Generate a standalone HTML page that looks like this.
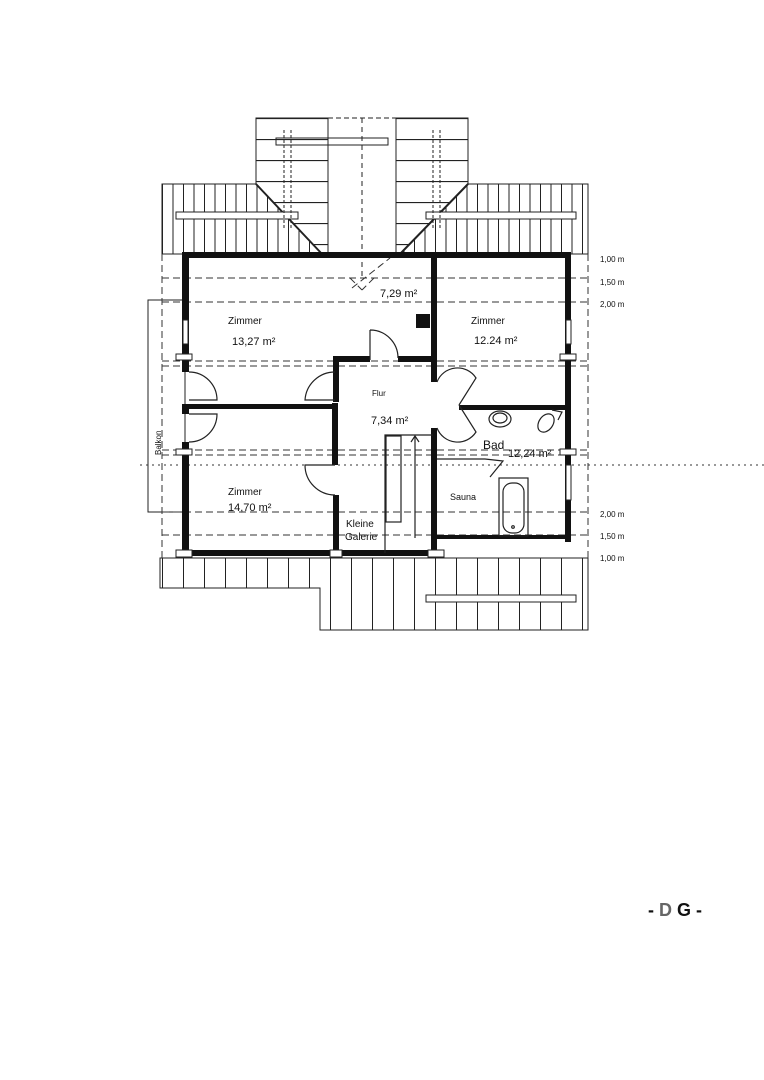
<!DOCTYPE html>
<html><head><meta charset="utf-8"><style>
html,body{margin:0;padding:0;background:#fff;}
svg{display:block;}
text{font-family:"Liberation Sans",sans-serif;fill:#111;}
</style></head><body>
<svg width="764" height="1080" viewBox="0 0 764 1080" xmlns="http://www.w3.org/2000/svg">
<defs>
<pattern id="v11" width="10.5" height="20" patternUnits="userSpaceOnUse" x="162"><rect width="10.5" height="20" fill="#fff"/><line x1="0.5" y1="0" x2="0.5" y2="20" stroke="#222" stroke-width="1"/></pattern>
<pattern id="v21" width="21" height="20" patternUnits="userSpaceOnUse" x="162"><rect width="21" height="20" fill="#fff"/><line x1="0.5" y1="0" x2="0.5" y2="20" stroke="#222" stroke-width="1"/></pattern>
<pattern id="h21" width="20" height="21" patternUnits="userSpaceOnUse" y="118"><rect width="20" height="21" fill="#fff"/><line x1="0" y1="0.5" x2="20" y2="0.5" stroke="#222" stroke-width="1.2"/></pattern>
</defs>
<g fill="none" stroke="#222" stroke-width="1">
<!-- dormers -->
<rect x="256" y="118" width="72" height="136" fill="url(#h21)"/>
<rect x="396" y="118" width="72" height="136" fill="url(#h21)"/>
<line x1="328" y1="118" x2="396" y2="118" stroke-dasharray="5,3"/>
<line x1="362" y1="118" x2="362" y2="280" stroke-dasharray="5,4"/>
<!-- side roofs -->
<polygon points="162,184 256,184 322,254 162,254" fill="url(#v11)"/>
<polygon points="468,184 588,184 588,254 400,254" fill="url(#v11)"/>
<line x1="256" y1="184" x2="322" y2="254" stroke-width="2"/>
<line x1="468" y1="184" x2="400" y2="254" stroke-width="2"/>
<rect x="176" y="212" width="122" height="7" fill="#fff"/>
<rect x="426" y="212" width="150" height="7" fill="#fff"/>
<rect x="276" y="138" width="112" height="7" fill="none"/>
<rect x="424" y="138" width="0" height="0"/>
<line x1="284" y1="130" x2="284" y2="230" stroke-dasharray="3,2"/>
<line x1="291" y1="130" x2="291" y2="230" stroke-dasharray="3,2"/>
<line x1="433" y1="130" x2="433" y2="230" stroke-dasharray="3,2"/>
<line x1="440" y1="130" x2="440" y2="230" stroke-dasharray="3,2"/>
<!-- bottom roof -->
<polygon points="160,558 588,558 588,630 320,630 320,588 160,588" fill="url(#v21)"/>
<rect x="426" y="595" width="150" height="7" fill="#fff"/>
<!-- balcony -->
<rect x="148" y="300" width="37" height="212" fill="#fff"/>
<!-- dashed lines -->
<g stroke-dasharray="7,4" stroke="#333">
<line x1="162" y1="254" x2="162" y2="558"/>
<line x1="588" y1="254" x2="588" y2="558"/>
<line x1="162" y1="278" x2="588" y2="278"/>
<line x1="162" y1="302" x2="588" y2="302"/>
<line x1="162" y1="361" x2="588" y2="361"/>
<line x1="162" y1="366" x2="588" y2="366"/>
<line x1="162" y1="450" x2="588" y2="450"/>
<line x1="162" y1="455" x2="588" y2="455"/>
<line x1="162" y1="512" x2="588" y2="512"/>
<line x1="162" y1="535" x2="588" y2="535"/>
<line x1="588" y1="465" x2="764" y2="465" stroke-dasharray="2,4"/>
<line x1="140" y1="465" x2="588" y2="465" stroke-dasharray="2,4"/>
<line x1="352" y1="288" x2="390" y2="258"/>
<line x1="350" y1="278" x2="362" y2="290"/>
<line x1="374" y1="278" x2="362" y2="290"/>
</g>
</g>
<!-- walls -->
<g fill="#111">
<rect x="183" y="252" width="388" height="6"/>
<rect x="182" y="252" width="7" height="120"/>
<rect x="182" y="404" width="7" height="10"/>
<rect x="182" y="442" width="7" height="114"/>
<rect x="565" y="252" width="6" height="290"/>
<rect x="183" y="550" width="253" height="6"/>
<rect x="431" y="252" width="6" height="130"/>
<rect x="431" y="428" width="6" height="125"/>
<rect x="333" y="356" width="37" height="6"/>
<rect x="398" y="356" width="37" height="6"/>
<rect x="333" y="356" width="6" height="46"/>
<rect x="332" y="403" width="6" height="62"/>
<rect x="333" y="495" width="6" height="58"/>
<rect x="183" y="404" width="150" height="5"/>
<rect x="459" y="405" width="110" height="5"/>
<rect x="434" y="535" width="134" height="4"/>
<rect x="416" y="314" width="14" height="14"/>
</g>
<!-- windows -->
<g fill="#fff" stroke="#222" stroke-width="1">
<rect x="183" y="320" width="5" height="24"/>
<rect x="566" y="320" width="5" height="24"/>
<rect x="566" y="465" width="5" height="35"/>
<rect x="176" y="354" width="16" height="6"/>
<rect x="176" y="449" width="16" height="6"/>
<rect x="560" y="354" width="16" height="6"/>
<rect x="560" y="449" width="16" height="6"/>
<rect x="176" y="550" width="16" height="7"/>
<rect x="330" y="550" width="12" height="7"/>
<rect x="428" y="550" width="16" height="7"/>
</g>
<!-- doors -->
<g fill="none" stroke="#222" stroke-width="1.2">
<path d="M370,330 L370,360 M370,330 A28,28 0 0 1 398,358"/>
<path d="M335,372 A30,30 0 0 0 305,400 L335,400"/>
<path d="M189,372 A28,28 0 0 1 217,400 L189,400"/>
<path d="M189,442 A28,28 0 0 0 217,414 L189,414"/>
<path d="M335,495 A30,30 0 0 1 305,465 L335,465"/>
<path d="M437,382 A22,22 0 0 1 476,378 L459,405"/>
<path d="M437,428 A22,22 0 0 0 476,432 L459,405"/>
<!-- stairs -->
<path d="M385,553 L385,435 L433,435"/>
<rect x="386" y="436" width="15" height="86"/>
<line x1="415" y1="538" x2="415" y2="436"/>
<path d="M411,442 L415,436 L419,442"/>
<!-- sauna -->
<path d="M437,459 L485,459 L503,461 L490,477"/>
<rect x="499" y="478" width="29" height="58"/>
<rect x="503" y="483" width="21" height="50" rx="9"/>
<circle cx="513" cy="527" r="1.3"/>
<ellipse cx="500" cy="419" rx="11" ry="8"/>
<ellipse cx="500" cy="418" rx="7" ry="5"/>
<ellipse cx="546" cy="423" rx="7" ry="10" transform="rotate(35 546 423)"/>
<path d="M552,410 L562,412 L558,420"/>
</g>
<g font-size="10">
<text x="380" y="297" font-size="11">7,29 m²</text>
<text x="228" y="324">Zimmer</text>
<text x="232" y="345" font-size="11">13,27 m²</text>
<text x="471" y="324">Zimmer</text>
<text x="474" y="344" font-size="11">12.24 m²</text>
<text x="372" y="396" font-size="8">Flur</text>
<text x="371" y="424" font-size="11">7,34 m²</text>
<text x="483" y="449" font-size="12">Bad</text>
<text x="508" y="457" font-size="11">12,24 m²</text>
<text x="450" y="500" font-size="9">Sauna</text>
<text x="228" y="495">Zimmer</text>
<text x="228" y="511" font-size="11">14,70 m²</text>
<text x="346" y="527">Kleine</text>
<text x="345" y="540">Galerie</text>
<text x="161" y="455" font-size="8" transform="rotate(-90 161 455)">Balkon</text>
</g>
<g font-size="8" fill="#444">
<text x="600" y="262">1,00 m</text>
<text x="600" y="285">1,50 m</text>
<text x="600" y="307">2,00 m</text>
<text x="600" y="517">2,00 m</text>
<text x="600" y="539">1,50 m</text>
<text x="600" y="561">1,00 m</text>
</g>
<text x="648" y="916" font-size="18" font-weight="bold">- <tspan fill="#666">D</tspan> G -</text>
</svg>
</body></html>
